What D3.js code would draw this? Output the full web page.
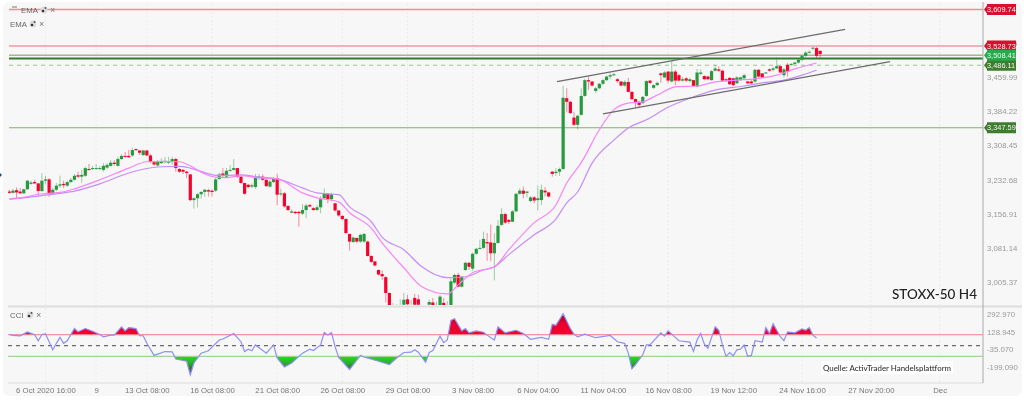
<!DOCTYPE html>
<html>

<head>
    <title>STOXX-50 H4</title>
    <script src="https://d3js.org/d3.v7.min.js"></script>
    <style>
        html, body { margin: 0; padding: 0; background: #fff; overflow: hidden; }
        svg { display: block; filter: blur(0.3px); font-family: "Liberation Sans", sans-serif; }
    </style>
</head>

<body>
    <svg id="chart" width="1024" height="400"></svg>

    <script>
        // candles (4h bars, index 0 = first bar on the left)
        const opens = [
            3206,3203,3209,3206,3202,3211,3223,3227,3224,3207,
            3230,3233,3201,3210,3219,3223,3219,3227,3232,3242,
            3239,3241,3256,3256,3257,3256,3254,3259,3263,3270,
            3263,3278,3285,3285,3286,3300,3297,3287,3297,3286,
            3271,3264,3269,3271,3270,3273,3278,3256,3254,3250,
            3244,3187,3191,3200,3205,3209,3208,3208,3234,3246,
            3239,3252,3254,3258,3239,3225,3221,3217,3216,3236,
            3239,3232,3217,3227,3236,3200,3202,3174,3159,3161,
            3161,3157,3165,3176,3169,3165,3171,3191,3201,3189,
            3180,3164,3152,3145,3112,3094,3103,3095,3095,3095,
            3063,3051,3032,3023,3016,2981,2944,2944,2946,2955,
            2967,2948,2970,2967,2942,2942,2955,2960,2948,2953,
            2959,2950,2944,3004,3021,2995,3032,3048,3035,3068,
            3079,3081,3094,3093,3069,3092,3132,3156,3143,3139,
            3162,3201,3208,3203,3185,3193,3187,3187,3208,3204,
            3250,3247,3250,3256,3413,3405,3370,3354,3376,3418,
            3453,3450,3429,3435,3445,3453,3461,3464,3455,3450,
            3441,3449,3427,3411,3405,3402,3418,3452,3436,3442,
            3468,3459,3472,3450,3472,3464,3452,3457,3451,3453,
            3439,3467,3462,3461,3453,3474,3477,3474,3455,3458,
            3457,3446,3453,3457,3450,3450,3450,3476,3468,3468,
            3477,3476,3479,3484,3464,3487,3487,3489,3492,3498,
            3507,3514,3523,3524,3518
        ];
        const closes = [
            3203,3208,3204,3202,3211,3230,3226,3224,3207,3230,
            3233,3201,3210,3219,3222,3220,3227,3232,3241,3239,
            3243,3258,3254,3258,3258,3258,3263,3265,3270,3267,
            3278,3285,3283,3282,3298,3298,3292,3297,3286,3272,
            3266,3272,3273,3274,3273,3278,3258,3250,3250,3247,
            3187,3191,3200,3205,3210,3206,3205,3233,3244,3241,
            3252,3254,3258,3239,3225,3201,3216,3220,3238,3239,
            3232,3218,3228,3236,3199,3202,3173,3165,3162,3158,
            3158,3165,3175,3173,3165,3171,3189,3202,3189,3200,
            3164,3153,3145,3114,3095,3104,3095,3110,3112,3063,
            3050,3042,3022,3018,2981,2944,2953,2951,2953,2966,
            2956,2953,2955,2955,2950,2948,2961,2953,2954,2973,
            2953,2954,3007,3021,2995,3017,3048,3039,3068,3079,
            3081,3101,3091,3069,3092,3130,3156,3137,3139,3162,
            3201,3208,3201,3206,3193,3186,3191,3210,3204,3195,
            3245,3250,3256,3414,3405,3380,3354,3374,3418,3453,
            3450,3441,3435,3445,3453,3461,3464,3466,3451,3441,
            3449,3427,3411,3402,3398,3416,3451,3447,3442,3447,
            3464,3470,3452,3472,3452,3452,3455,3452,3455,3440,
            3470,3470,3455,3455,3473,3479,3474,3452,3452,3444,
            3442,3459,3459,3464,3446,3446,3476,3461,3459,3470,
            3474,3479,3484,3470,3477,3472,3489,3492,3498,3507,
            3514,3516,3525,3507,3511
        ];
        const highs = [
            3210,3212,3215,3214,3212,3232,3230,3232,3225,3247,
            3241,3236,3214,3225,3241,3230,3230,3236,3245,3250,
            3254,3261,3267,3263,3267,3263,3269,3269,3276,3276,
            3283,3289,3294,3298,3303,3302,3298,3298,3298,3289,
            3274,3276,3280,3283,3283,3283,3281,3258,3256,3252,
            3245,3194,3203,3207,3212,3212,3210,3236,3248,3258,
            3258,3265,3278,3258,3241,3225,3223,3224,3245,3245,
            3244,3236,3232,3238,3245,3213,3205,3176,3167,3163,
            3163,3178,3179,3179,3172,3176,3196,3213,3203,3203,
            3180,3165,3153,3147,3112,3106,3104,3112,3114,3097,
            3065,3052,3033,3031,3018,2982,2959,2956,2967,2981,
            2977,2966,2979,2977,2954,2953,2966,2970,2962,2977,
            2970,2963,3013,3024,3026,3019,3050,3050,3070,3081,
            3099,3117,3114,3132,3114,3143,3169,3159,3145,3165,
            3203,3213,3217,3206,3196,3196,3219,3221,3216,3205,
            3252,3258,3259,3440,3435,3407,3383,3376,3435,3456,
            3461,3451,3438,3447,3456,3463,3470,3469,3458,3451,
            3453,3458,3429,3412,3407,3418,3453,3453,3444,3450,
            3470,3473,3473,3496,3476,3467,3460,3460,3458,3454,
            3478,3477,3464,3463,3476,3487,3484,3476,3457,3460,
            3458,3462,3461,3467,3451,3453,3478,3478,3468,3471,
            3479,3483,3504,3485,3480,3491,3491,3494,3500,3509,
            3518,3519,3527,3527,3519
        ];
        const lows = [
            3201,3202,3192,3201,3201,3210,3221,3223,3196,3205,
            3223,3194,3199,3207,3214,3214,3216,3225,3230,3236,
            3225,3238,3252,3254,3254,3254,3250,3256,3261,3263,
            3261,3276,3281,3281,3283,3296,3287,3285,3285,3269,
            3263,3261,3267,3268,3267,3265,3250,3247,3245,3236,
            3184,3168,3171,3190,3194,3195,3195,3205,3232,3238,
            3237,3250,3252,3236,3223,3199,3213,3213,3212,3232,
            3230,3216,3215,3225,3176,3196,3170,3163,3158,3156,
            3128,3154,3147,3171,3163,3163,3158,3189,3180,3185,
            3162,3150,3142,3112,3075,3092,3092,3092,3092,3062,
            3048,3040,3020,3010,2960,2933,2939,2939,2940,2953,
            2953,2940,2944,2944,2938,2936,2953,2948,2945,2950,
            2948,2946,2939,3001,2993,2993,3030,3032,3030,3066,
            3077,3079,3052,3051,3009,3090,3130,3134,3134,3138,
            3160,3199,3191,3193,3182,3180,3164,3176,3195,3193,
            3239,3241,3241,3254,3383,3378,3351,3344,3374,3416,
            3431,3439,3424,3433,3442,3451,3455,3462,3447,3439,
            3438,3426,3409,3391,3392,3400,3416,3444,3433,3440,
            3447,3458,3446,3448,3442,3450,3449,3449,3448,3439,
            3437,3464,3453,3453,3452,3472,3471,3450,3449,3442,
            3440,3445,3451,3456,3444,3443,3447,3459,3458,3467,
            3472,3472,3478,3469,3459,3461,3484,3487,3490,3495,
            3504,3512,3520,3502,3502
        ];

        // EMA lines, sampled where they could be read
        const fastIdx = [0,4,8,14,18,25,33,38,42,47,50,54,57,60,64,69,74,81,85,91,94,100,103,109,114,121,124,128,134,138,145,151,154,158,163,167,171,175,179,184,190,195,201,206,212,217,223];
        const fastEma = [3190,3193,3200,3204,3212,3232,3258,3272,3273,3272,3263,3245,3238,3237,3241,3236,3234,3203,3192,3183,3159,3125,3092,3037,2995,2979,2999,3026,3039,3077,3137,3176,3225,3270,3343,3387,3402,3405,3420,3438,3440,3449,3453,3456,3464,3478,3491];
        const slowIdx = [0,4,8,14,18,25,33,38,42,47,50,54,57,60,64,69,74,81,85,91,94,100,103,109,114,121,126,131,134,138,145,151,154,157,161,167,171,176,182,188,195,203,208,214,219,223];
        const slowEma = [3189,3192,3196,3202,3207,3223,3247,3257,3261,3262,3258,3248,3242,3242,3243,3238,3234,3214,3203,3199,3172,3139,3105,3077,3039,3015,3017,3032,3039,3066,3110,3145,3181,3205,3269,3320,3347,3365,3393,3413,3431,3440,3447,3453,3464,3475];

        // horizontal levels
        const redLevels = [3609.74, 3528.73];
        const brightLevel = 3508.41;
        const darkLevel = 3501;
        const dashLevel = 3486.11;
        const lowLevel = 3347.59;

        // drawn channel: [bar, price, bar, price]
        const channelLines = [
            [151.3, 3449.6, 230.9, 3565.7],
            [164, 3378, 243.3, 3494]
        ];

        // CCI pane
        const cciIdx = [0,1,3,5,7,8,9,10,11,12,13,14,15,16,18,19,21,23,25,26,28,29,31,32,33,35,36,37,38,40,41,43,45,46,49,50,51,53,55,58,59,62,64,65,66,67,68,71,73,74,76,78,81,83,84,86,87,88,89,90,91,94,97,98,102,105,107,109,111,112,113,115,116,117,119,120,121,122,123,125,126,127,129,131,132,134,135,137,140,142,144,147,149,150,151,153,155,156,157,159,162,166,168,170,171,172,173,175,176,177,180,181,182,184,185,188,189,190,191,192,193,195,196,197,198,199,200,201,202,203,204,205,206,208,209,210,211,213,214,215,217,219,220,221,222,223];
        const cciValues = [103,94,91,127,100,45,103,109,36,-39,21,76,21,45,158,127,158,133,103,82,97,97,173,136,167,158,91,91,21,-91,-79,-55,-58,-124,-145,-270,-161,-70,-48,52,61,112,36,-55,-33,-48,6,-70,6,-115,-197,-161,-70,-33,-45,6,121,97,121,-9,-110,-221,-91,-106,-145,-176,-115,-64,-61,-39,-61,-155,-64,-45,88,27,52,233,248,136,158,118,136,124,97,52,173,118,142,112,58,76,58,197,188,294,158,106,82,106,73,94,36,21,-70,-215,-176,-85,6,6,118,88,136,76,45,33,-55,52,112,15,-24,173,142,6,-100,-64,-94,-39,-33,6,-100,-91,45,33,167,112,203,82,45,127,118,155,142,167,97,70];
        const cciLevels = [100, 0, -100];

        // axes
        const priceTicks = [3535.76, 3459.99, 3384.22, 3308.45, 3232.68, 3156.91, 3081.14, 3005.37];
        const cciTicks = [292.97, 128.945, -35.07, -199.09];
        const timeIdx = [10,24,38,56,74,92,110,128,146,164,182,200,219,238,257];
        const timeLabels = ["6 Oct 2020 16:00","9","13 Oct 08:00","16 Oct 08:00","21 Oct 08:00","26 Oct 08:00","29 Oct 08:00","3 Nov 08:00","6 Nov 04:00","11 Nov 04:00","16 Nov 08:00","19 Nov 12:00","24 Nov 16:00","27 Nov 20:00","Dec"];

        var svg = d3.select("#chart");

        var left = 8, axisX = 983, mainBottom = 306, cciBottom = 383;

        var xScale = d3.scaleLinear().domain([0, 257]).range([9.3, 939.6]);
        var yScale = d3.scaleLinear().domain([3459.99, 3005.37]).range([77, 282]);
        var cciScale = d3.scaleLinear().domain([100, -100]).range([334.8, 356.4]);

        var green = "#279a41", red = "#f6002c";
        var labelSize = 7.8;

        // panel background
        svg.append("rect").attr("x", 3).attr("y", 2).attr("width", 1019).attr("height", 394)
            .attr("rx", 6).attr("fill", "#f7f7f7");

        var defs = svg.append("defs");
        defs.append("clipPath").attr("id", "main-clip").append("rect")
            .attr("x", left).attr("y", 0).attr("width", axisX - left).attr("height", mainBottom - 1);
        defs.append("clipPath").attr("id", "above-clip").append("rect")
            .attr("x", left).attr("y", mainBottom).attr("width", axisX - left).attr("height", cciScale(100) - mainBottom);
        defs.append("clipPath").attr("id", "below-clip").append("rect")
            .attr("x", left).attr("y", cciScale(-100)).attr("width", axisX - left).attr("height", cciBottom - cciScale(-100));

        var redGrad = defs.append("linearGradient").attr("id", "red-grad")
            .attr("gradientUnits", "userSpaceOnUse").attr("x1", 0).attr("x2", 0)
            .attr("y1", cciScale(300)).attr("y2", cciScale(100));
        redGrad.append("stop").attr("offset", 0).attr("stop-color", "#8a0a22");
        redGrad.append("stop").attr("offset", 0.45).attr("stop-color", "#e8002c");
        redGrad.append("stop").attr("offset", 1).attr("stop-color", "#f8002e");

        var greenGrad = defs.append("linearGradient").attr("id", "green-grad")
            .attr("gradientUnits", "userSpaceOnUse").attr("x1", 0).attr("x2", 0)
            .attr("y1", cciScale(-100)).attr("y2", cciScale(-270));
        greenGrad.append("stop").attr("offset", 0).attr("stop-color", "#1fe01f");
        greenGrad.append("stop").attr("offset", 0.35).attr("stop-color", "#2bb02b");
        greenGrad.append("stop").attr("offset", 0.7).attr("stop-color", "#2f6b2f");
        greenGrad.append("stop").attr("offset", 1).attr("stop-color", "#2f5a2f");

        // faint grid
        svg.append("g").selectAll("line").data(timeIdx).join("line")
            .attr("x1", d => xScale(d)).attr("x2", d => xScale(d))
            .attr("y1", 4).attr("y2", cciBottom)
            .attr("stroke", "#ececec").attr("stroke-dasharray", "2,2");

        // levels
        function hline(value, color, width, dash) {
            svg.append("line").attr("x1", 9).attr("x2", axisX)
                .attr("y1", yScale(value)).attr("y2", yScale(value))
                .attr("stroke", color).attr("stroke-width", width)
                .attr("stroke-dasharray", dash || null);
        }
        hline(redLevels[0], "#ee8f98", 1.6);
        hline(redLevels[1], "#ea6f7a", 1);
        hline(brightLevel, "#8d8a5c", 1);
        hline(darkLevel, "#2f7d2f", 1.8);
        hline(dashLevel, "#9cc48f", 1, "4,4");
        hline(lowLevel, "#7fb36d", 1.1);

        // candles
        var candles = svg.append("g").attr("clip-path", "url(#main-clip)");
        var bars = d3.range(opens.length);

        candles.selectAll("line.wick").data(bars).join("line")
            .attr("class", "wick")
            .attr("x1", i => xScale(i)).attr("x2", i => xScale(i))
            .attr("y1", i => yScale(highs[i])).attr("y2", i => yScale(lows[i]))
            .attr("stroke", i => closes[i] >= opens[i] ? green : red)
            .attr("stroke-opacity", 0.45).attr("stroke-width", 1);

        candles.selectAll("rect.body").data(bars).join("rect")
            .attr("class", "body")
            .attr("x", i => xScale(i) - 1.6).attr("width", 3.2)
            .attr("y", i => yScale(Math.max(opens[i], closes[i])))
            .attr("height", i => Math.max(1, Math.abs(yScale(opens[i]) - yScale(closes[i]))))
            .attr("fill", i => closes[i] >= opens[i] ? green : red);

        // EMA lines
        var emaLine = d3.line().x(d => xScale(d[0])).y(d => yScale(d[1])).curve(d3.curveMonotoneX);
        candles.append("path").attr("d", emaLine(d3.zip(slowIdx, slowEma)))
            .attr("fill", "none").attr("stroke", "#c58df8").attr("stroke-width", 1.2);
        candles.append("path").attr("d", emaLine(d3.zip(fastIdx, fastEma)))
            .attr("fill", "none").attr("stroke", "#f884f8").attr("stroke-width", 1.2);

        // channel
        svg.append("g").selectAll("line").data(channelLines).join("line")
            .attr("x1", d => xScale(d[0])).attr("y1", d => yScale(d[1]))
            .attr("x2", d => xScale(d[2])).attr("y2", d => yScale(d[3]))
            .attr("stroke", "#6c6c6c").attr("stroke-width", 1.3);

        // pane borders
        svg.append("line").attr("x1", left).attr("x2", 1022).attr("y1", mainBottom + 0.5).attr("y2", mainBottom + 0.5)
            .attr("stroke", "#dedede").attr("stroke-width", 2);
        svg.append("line").attr("x1", left).attr("x2", axisX).attr("y1", cciBottom).attr("y2", cciBottom)
            .attr("stroke", "#dcdcdc");
        svg.append("line").attr("x1", axisX).attr("x2", axisX).attr("y1", 2).attr("y2", cciBottom)
            .attr("stroke", "#a8a8a8");

        // CCI fills, line and levels
        var cciData = d3.zip(cciIdx, cciValues);
        var cciLine = d3.line().x(d => xScale(d[0])).y(d => cciScale(d[1]));

        svg.append("path").attr("clip-path", "url(#above-clip)")
            .attr("d", d3.area().x(d => xScale(d[0])).y0(cciScale(100)).y1(d => cciScale(d[1]))(cciData))
            .attr("fill", "url(#red-grad)");
        svg.append("path").attr("clip-path", "url(#below-clip)")
            .attr("d", d3.area().x(d => xScale(d[0])).y0(cciScale(-100)).y1(d => cciScale(d[1]))(cciData))
            .attr("fill", "url(#green-grad)");

        var cciLevelColor = ["#f8808c", "#6a6a6a", "#a2d496"];
        cciLevels.forEach(function (v, i) {
            svg.append("line").attr("x1", left).attr("x2", axisX)
                .attr("y1", cciScale(v)).attr("y2", cciScale(v))
                .attr("stroke", cciLevelColor[i]).attr("stroke-width", 1.1)
                .attr("stroke-dasharray", v == 0 ? "4,4" : null);
        });

        svg.append("path").attr("d", cciLine(cciData))
            .attr("fill", "none").attr("stroke", "#8f8ff4").attr("stroke-width", 1.2);

        // axes
        var xAxis = svg.append("g").attr("transform", "translate(0," + (cciBottom + 1) + ")")
            .call(d3.axisBottom(xScale).tickValues(timeIdx).tickFormat((d, i) => timeLabels[i]).tickSize(0));
        xAxis.select(".domain").remove();
        xAxis.selectAll("text").attr("fill", "#777").attr("font-size", labelSize)
            .attr("font-family", "'Liberation Sans', sans-serif").attr("dy", "0.71em");

        var yAxis = svg.append("g").attr("transform", "translate(" + (axisX + 1) + ",0)")
            .call(d3.axisRight(yScale).tickValues(priceTicks).tickFormat(d3.format(",.2f")).tickSize(0));
        yAxis.select(".domain").remove();
        yAxis.selectAll("text").attr("fill", "#999").attr("font-size", labelSize)
            .attr("font-family", "'Liberation Sans', sans-serif");

        var cciAxis = svg.append("g").attr("transform", "translate(" + (axisX + 1) + ",0)")
            .call(d3.axisRight(cciScale).tickValues(cciTicks).tickFormat(d => d.toFixed(3)).tickSize(0));
        cciAxis.select(".domain").remove();
        cciAxis.selectAll("text").attr("fill", "#999").attr("font-size", labelSize)
            .attr("font-family", "'Liberation Sans', sans-serif");

        // price tags on the axis
        function tag(value, color) {
            var y = yScale(value);
            var g = svg.append("g");
            g.append("path")
                .attr("d", "M" + (axisX + 1) + "," + y + "l3,-4v-1.5h29v11h-29v-1.5z")
                .attr("fill", color);
            g.append("text").attr("x", 987).attr("y", y + 2.7)
                .attr("fill", "#f4f4f4").attr("font-size", 7.4)
                .text(d3.format(",.2f")(value));
        }
        tag(redLevels[0], "#d8102e");
        tag(redLevels[1], "#d8102e");
        tag(dashLevel, "#3f7d2e");
        tag(brightLevel, "#2aa84a");
        tag(lowLevel, "#3f7d2e");

        // indicator legends
        function legend(name, x, y) {
            svg.append("text").attr("x", x).attr("y", y).attr("fill", "#666").attr("font-size", labelSize).text(name);
            var ix = x + (name == "CCI" ? 20 : 23);
            svg.append("circle").attr("cx", ix).attr("cy", y - 3).attr("r", 3.4).attr("fill", "#dcdcdc");
            svg.append("circle").attr("cx", ix - 1).attr("cy", y - 2).attr("r", 1.3).attr("fill", "#333");
            svg.append("circle").attr("cx", ix + 1.5).attr("cy", y - 5).attr("r", 1).attr("fill", "#555");
            svg.append("text").attr("x", ix + 6).attr("y", y).attr("fill", "#777").attr("font-size", 9).text("×");
        }
        legend("EMA", 21, 13);
        legend("EMA", 10, 27);
        legend("CCI", 10, 318);
        svg.append("line").attr("x1", 12).attr("x2", 17).attr("y1", 7).attr("y2", 7).attr("stroke", "#777");

        // little marker at the far left
        svg.append("path").attr("d", "M0,173l2,2l-2,2z").attr("fill", "#2a4a7a");

        // annotations
        svg.append("text").attr("x", 892).attr("y", 299)
            .attr("font-family", "Lato, sans-serif").attr("font-size", 13.5).attr("font-weight", 500).attr("fill", "#222")
            .text("STOXX-50 H4");
        svg.append("rect").attr("x", 821).attr("y", 361).attr("width", 132).attr("height", 13).attr("fill", "#fff");
        svg.append("text").attr("x", 823).attr("y", 370.5)
            .attr("font-family", "Lato, sans-serif").attr("font-size", 7.9).attr("font-weight", 500).attr("fill", "#333")
            .text("Quelle: ActivTrader Handelsplattform");
    </script>
</body>

</html>
